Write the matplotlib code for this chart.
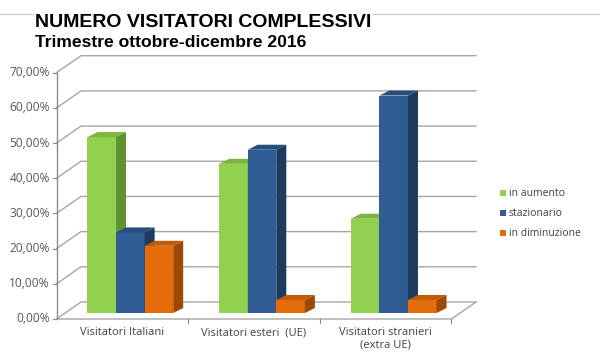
import matplotlib
matplotlib.use("Agg")
import matplotlib.pyplot as plt
from matplotlib.patches import Polygon, Rectangle

# data
categories = ["Visitatori Italiani", "Visitatori esteri  (UE)", "Visitatori stranieri\n(extra UE)"]
series = ["in aumento", "stazionario", "in diminuzione"]
in_aumento = [50.0, 42.4, 26.8]
stazionario = [22.9, 46.4, 61.8]
in_diminuzione = [19.1, 3.7, 3.7]
y_ticks = [0, 10, 20, 30, 40, 50, 60, 70]
tick_labels = ["0,00%", "10,00%", "20,00%", "30,00%", "40,00%", "50,00%", "60,00%", "70,00%"]

values = [in_aumento, stazionario, in_diminuzione]
# front, top, side colours for each series
face = ["#92D050", "#2F5C93", "#E46C0A"]
top = ["#7DB543", "#264D7D", "#C25B08"]
side = ["#5F9231", "#1E3A5F", "#9C4806"]

W, H = 600, 360
fig = plt.figure(figsize=(W / 100, H / 100), dpi=100)
fig.patch.set_facecolor("white")

# front plane of the pseudo 3d box
x0, x1 = 56.5, 451.5
yb, yt = 319.0, 72.7
ax = fig.add_axes([x0 / W, (H - yb) / H, (x1 - x0) / W, (yb - yt) / H])
ax.set_xlim(-0.5, 2.5)
ax.set_ylim(0, 70)
ax.axis("off")

ux = (x1 - x0) / 3.0      # px per category unit
uy = (yb - yt) / 70.0     # px per percent


def off(dx, dy):
    return dx / ux, dy / uy


wall = off(24.5, 17.0)
bfront = off(8.0, 6.0)
bback = off(18.0, 11.0)

grid_c = "#A6A6A6"
# gridlines: diagonal on left side wall, then across the back wall
for v in y_ticks:
    ax.plot([-0.5, -0.5 + wall[0], 2.5 + wall[0]], [v, v + wall[1], v + wall[1]],
            color=grid_c, lw=1.0, clip_on=False, zorder=1)
    ax.plot([-0.5 - 0.025, -0.5], [v, v], color="#8C8C8C", lw=0.8, clip_on=False, zorder=1)
# floor
ax.plot([-0.5, 2.5, 2.5 + wall[0]], [0, 0, wall[1]], color=grid_c, lw=1.0, clip_on=False, zorder=1)
ax.plot([-0.5, -0.5], [0, 70], color="#8C8C8C", lw=1.0, clip_on=False, zorder=1)
for t in [0.5, 1.5, 2.5]:
    ax.plot([t, t], [0, -1.1], color="#8C8C8C", lw=0.8, clip_on=False, zorder=1)

for v, lab in zip(y_ticks, tick_labels):
    ax.text(-0.5 - 0.05, v, lab, ha="right", va="center", fontsize=8.6,
            color="#595959", family="Open Sans")

bw = 0.217
z = 3
for i in range(len(categories)):
    for s in range(3):
        h = values[s][i]
        xl = i + (s - 1.5) * bw + bfront[0]
        xr = xl + bw
        y0 = bfront[1]
        y1 = h + bfront[1]
        dx = bback[0] - bfront[0]
        dy = bback[1] - bfront[1]
        ax.add_patch(Polygon([(xl, y0), (xr, y0), (xr, y1), (xl, y1)], closed=True,
                             fc=face[s], ec="none", clip_on=False, zorder=z))
        ax.add_patch(Polygon([(xl, y1), (xr, y1), (xr + dx, y1 + dy), (xl + dx, y1 + dy)],
                             closed=True, fc=top[s], ec="none", clip_on=False, zorder=z))
        ax.add_patch(Polygon([(xr, y0), (xr + dx, y0 + dy), (xr + dx, y1 + dy), (xr, y1)],
                             closed=True, fc=side[s], ec="none", clip_on=False, zorder=z))
        z += 1

for i, c in enumerate(categories):
    ax.text(i, -2.3, c, ha="center", va="top", fontsize=8, color="#404040",
            family="Open Sans", linespacing=1.15)

# legend
for s, name in enumerate(series):
    yy = 193 + 20 * s
    fig.patches.append(Rectangle((500 / W, (H - yy - 3) / H), 6 / W, 6 / H,
                                 transform=fig.transFigure, fc=face[s], ec="none"))
    fig.text(509 / W, (H - yy) / H, name, ha="left", va="center", fontsize=7.5,
             color="#404040", family="Open Sans")

# header
fig.add_artist(plt.Line2D([0, 1], [(H - 14) / H, (H - 14) / H], color="#C8C8C8", lw=0.8, zorder=0))
fig.text(35 / W, (H - 27) / H, "NUMERO VISITATORI COMPLESSIVI", ha="left", va="baseline",
         fontsize=14, fontweight="bold", family="Liberation Sans",
         color="black", zorder=2,
         bbox=dict(fc="white", ec="none", pad=1))
fig.text(35 / W, (H - 47) / H, "Trimestre ottobre-dicembre 2016", ha="left", va="baseline",
         fontsize=12.6, fontweight="bold", family="Liberation Sans",
         color="black")

fig.savefig("out.png", dpi=100)
